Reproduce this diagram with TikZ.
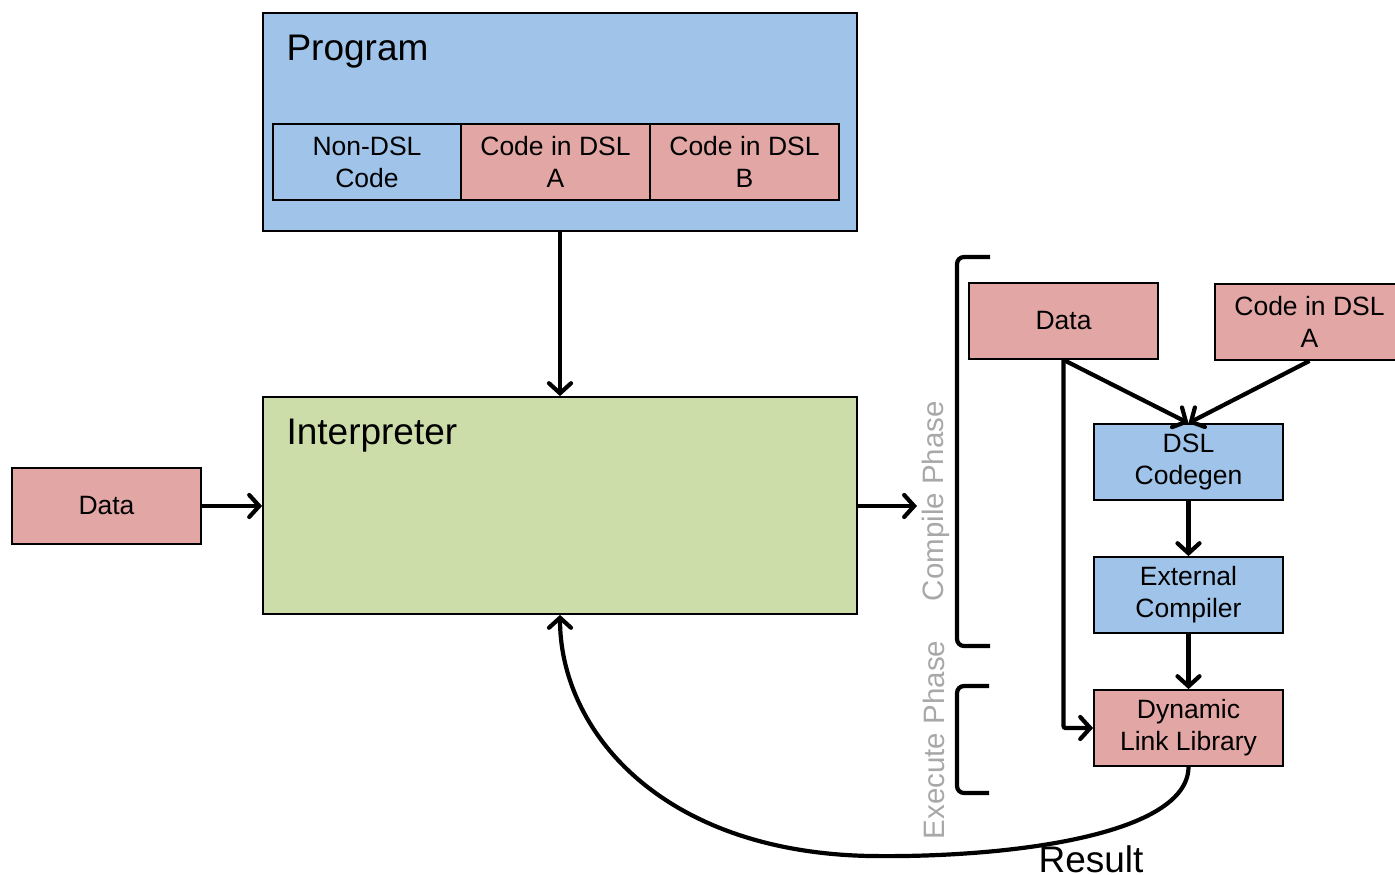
\documentclass[tikz,border=0pt]{standalone}
\usepackage{fontspec}
\setmainfont{Liberation Sans}
\usetikzlibrary{arrows.meta}
\definecolor{progblue}{HTML}{9FC3E9}
\definecolor{datapink}{HTML}{E2A7A5}
\definecolor{interpgreen}{HTML}{CCDDAA}
\definecolor{phasegray}{HTML}{A8A8A8}
\tikzset{
  box/.style={draw=black, line width=1.8pt, inner sep=0pt, align=center,
    font=\fontsize{26.5}{32}\selectfont},
  bluebox/.style={box, fill=progblue},
  pinkbox/.style={box, fill=datapink},
  title/.style={anchor=base west, font=\fontsize{37}{40}\selectfont},
  flow/.style={line width=4.2pt, -{Straight Barb[length=10pt, width=22pt, line width=4.2pt, line cap=round]}},
  bracket/.style={line width=4.2pt, rounded corners=7pt},
  phase/.style={text=phasegray, rotate=90, font=\fontsize{29.5}{32}\selectfont},
}
\begin{document}
\begin{tikzpicture}[x=1pt, y=-1pt]
\useasboundingbox (0,0) rectangle (1395,875);

% program block with its three parts
\node[bluebox, minimum width=594pt, minimum height=218pt] (prog) at (560,122) {};
\node[title] (progt) at (283,60) {Program};
\node[bluebox, minimum width=188pt, minimum height=76pt] (nondsl) at (367,162) {Non-DSL\\Code};
\node[pinkbox, minimum width=189pt, minimum height=76pt] (dsla) at (555.5,162) {Code in DSL\\A};
\node[pinkbox, minimum width=189pt, minimum height=76pt] (dslb) at (744.5,162) {Code in DSL\\B};

% interpreter
\node[box, fill=interpgreen, minimum width=594pt, minimum height=217pt] (interp) at (560,505.5) {};
\node[title] (interpt) at (283,444) {Interpreter};

% input data
\node[pinkbox, minimum width=189pt, minimum height=76pt] (data) at (106.5,506) {Data};

\draw[flow] (prog.south) -- (interp.north);
\draw[flow] (data.east) -- (interp.west |- data.east);
\coordinate (out) at (917,506);
\draw[flow] (interp.east |- out) -- (out);

% compile / execute phase brackets
\coordinate (cb1) at (990,257);
\coordinate (cb2) at (990,646);
\draw[bracket] (cb1) -- (957,257) -- (957,646) -- (cb2);
\coordinate (eb1) at (989,686);
\coordinate (eb2) at (989,793);
\draw[bracket] (eb1) -- (957,686) -- (957,793) -- (eb2);
\node[phase] (cphase) at (936,501) {Compile Phase};
\node[phase] (ephase) at (934,740) {Execute Phase};

% compile pipeline
\node[pinkbox, minimum width=189pt, minimum height=76pt] (rdata) at (1063.5,321) {Data};
\node[pinkbox, minimum width=189pt, minimum height=76pt] (rdsla) at (1309.5,322) {Code in DSL\\A};
\node[bluebox, minimum width=189pt, minimum height=76pt] (codegen) at (1188.5,462) {DSL\\Codegen};
\node[bluebox, minimum width=189pt, minimum height=76pt] (extc) at (1188.5,595) {External\\Compiler};
\node[pinkbox, minimum width=189pt, minimum height=76pt] (dll) at (1188.5,728) {Dynamic\\Link Library};

\draw[flow] (rdata.south) -- (codegen.north);
\draw[flow] (rdsla.south) -- (codegen.north);
\draw[flow] (codegen.south) -- (extc.north);
\draw[flow] (extc.south) -- (dll.north);
\draw[flow, rounded corners=2pt] (rdata.south) -- (rdata.south |- dll.west) -- (dll.west);

% result returned to the interpreter
\draw[flow] (dll.south) .. controls (1188,835) and (1010,858) .. (870,856)
  .. controls (660,852) and (560,730) .. (interp.south);
\node[title] (result) at (1035,872) {Result};
\end{tikzpicture}
\end{document}
